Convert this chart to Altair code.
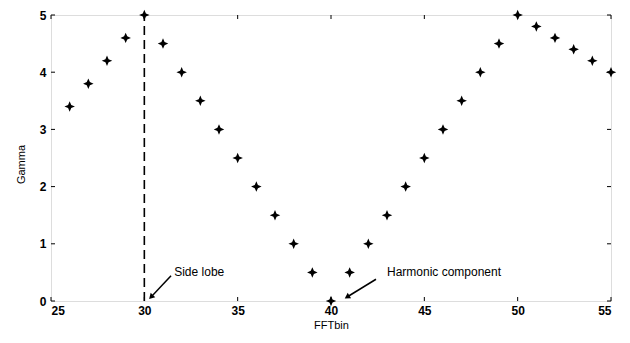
import altair as alt
import pandas as pd

# FFT bin and Gamma values
fft_bin = [26, 27, 28, 29, 30, 31, 32, 33, 34, 35, 36, 37, 38, 39, 40,
           41, 42, 43, 44, 45, 46, 47, 48, 49, 50, 51, 52, 53, 54, 55]
gamma = [3.4, 3.8, 4.2, 4.6, 5.0, 4.5, 4.0, 3.5, 3.0, 2.5, 2.0, 1.5, 1.0, 0.5, 0.0,
         0.5, 1.0, 1.5, 2.0, 2.5, 3.0, 3.5, 4.0, 4.5, 5.0, 4.8, 4.6, 4.4, 4.2, 4.0]

# dashed marker line
vline_x = [30]

# annotations
ann_text = ["Side lobe", "Harmonic component"]
ann_text_x = [31.6, 43.0]
ann_text_y = [0.51, 0.51]
arrow_tail_x = [31.43, 42.41]
arrow_tail_y = [0.44, 0.38]
arrow_head_x = [30.36, 40.86]
arrow_head_y = [0.07, 0.07]
arrow_angle = [224, 238]

x_ticks = [25, 30, 35, 40, 45, 50, 55]
y_ticks = [0, 1, 2, 3, 4, 5]

W, H = 560, 286
FONT = "Liberation Sans"

df = pd.DataFrame({"bin": fft_bin, "gamma": gamma})
ann = pd.DataFrame({"text": ann_text, "tx": ann_text_x, "ty": ann_text_y,
                    "x1": arrow_tail_x, "y1": arrow_tail_y,
                    "x2": arrow_head_x, "y2": arrow_head_y, "ang": arrow_angle})
vl = pd.DataFrame({"x": vline_x, "y0": [0], "y1": [5]})
xt = pd.DataFrame({"v": x_ticks})
yt = pd.DataFrame({"v": y_ticks})

xs = alt.Scale(domain=[25, 55], nice=False, zero=False)
ys = alt.Scale(domain=[0, 5], nice=False)

star = "M0,-1L0.3,-0.3L1,0L0.3,0.3L0,1L-0.3,0.3L-1,0L-0.3,-0.3Z"

base_axis_x = alt.Axis(values=x_ticks, ticks=False, grid=False, domain=False,
                       format="d",
                       labelFont=FONT, labelFontSize=12, labelFontWeight="bold",
                       labelColor="black",
                       labelPadding=4, title="FFTbin", titleFont=FONT,
                       titleFontSize=11, titleFontWeight="normal", titleColor="black",
                       titlePadding=3)
base_axis_y = alt.Axis(values=y_ticks, ticks=False, grid=False, domain=False,
                       format="d",
                       labelFont=FONT, labelFontSize=12, labelFontWeight="bold",
                       labelColor="black",
                       labelPadding=5, title="Gamma", titleFont=FONT,
                       titleFontSize=11, titleFontWeight="normal", titleColor="black",
                       titleX=-25, titleY=149)

points = alt.Chart(df).mark_point(shape=star, size=110, filled=True, color="black",
                                  opacity=1).encode(
    x=alt.X("bin:Q", scale=xs, axis=base_axis_x),
    y=alt.Y("gamma:Q", scale=ys, axis=base_axis_y),
)

vline = alt.Chart(vl).mark_rule(color="black", strokeWidth=1.6,
                                strokeDash=[9, 5]).encode(
    x=alt.X("x:Q", scale=xs), y=alt.Y("y0:Q", scale=ys), y2="y1:Q")

# inward ticks
xt_bot = alt.Chart(xt).mark_rule(color="black", strokeWidth=1).encode(
    x=alt.X("v:Q", scale=xs), y=alt.value(H), y2=alt.value(H - 4))
xt_top = alt.Chart(xt).mark_rule(color="black", strokeWidth=1).encode(
    x=alt.X("v:Q", scale=xs), y=alt.value(0), y2=alt.value(4))
yt_left = alt.Chart(yt).mark_rule(color="black", strokeWidth=1).encode(
    y=alt.Y("v:Q", scale=ys), x=alt.value(0), x2=alt.value(4))
yt_right = alt.Chart(yt).mark_rule(color="black", strokeWidth=1).encode(
    y=alt.Y("v:Q", scale=ys), x=alt.value(W), x2=alt.value(W - 4))

arrow_line = alt.Chart(ann).mark_rule(color="black", strokeWidth=1.5).encode(
    x=alt.X("x1:Q", scale=xs), y=alt.Y("y1:Q", scale=ys), x2="x2:Q", y2="y2:Q")
arrow_head = alt.Chart(ann).mark_point(shape="triangle-up", size=40, filled=True,
                                       color="black", opacity=1).encode(
    x=alt.X("x2:Q", scale=xs), y=alt.Y("y2:Q", scale=ys),
    angle=alt.Angle("ang:Q", scale=None))
labels = alt.Chart(ann).mark_text(align="left", baseline="middle", font=FONT,
                                  fontSize=12, color="black").encode(
    x=alt.X("tx:Q", scale=xs), y=alt.Y("ty:Q", scale=ys), text="text:N")

chart = alt.layer(vline, points, xt_bot, xt_top, yt_left, yt_right,
                  arrow_line, arrow_head, labels).properties(
    width=W, height=H,
    autosize=alt.AutoSizeParams(type="none"),
    padding={"left": 43, "top": 7, "right": 11, "bottom": 34},
).configure_view(stroke="black", strokeWidth=2).configure(background="white")

chart.save("out.html", embed_options={"renderer": "svg", "actions": False})
